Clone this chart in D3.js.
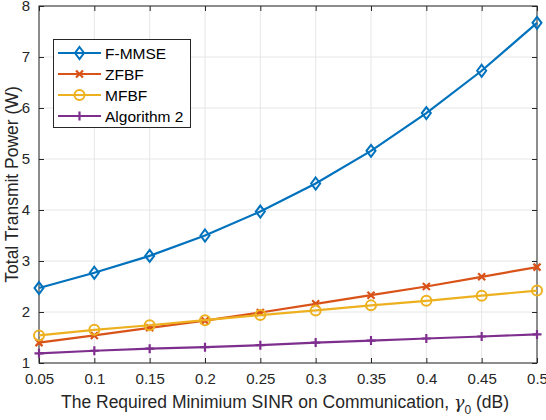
<!DOCTYPE html>
<html>
<head>
<meta charset="utf-8">
<script src="https://cdn.jsdelivr.net/npm/d3@7"></script>
<style>
body { margin: 0; background: #fff; }
text { font-family: "Liberation Sans", Arial, sans-serif; }
.axis path { display: none; }
.axis line { stroke: #262626; }
.axis text { fill: #262626; font-size: 15px; font-family: "Liberation Sans", Arial, sans-serif; }
.grid line { stroke: #e6e6e6; }
</style>
</head>
<body>
<script>
//Data
const gammaValues = [0.05, 0.1, 0.15, 0.2, 0.25, 0.3, 0.35, 0.4, 0.45, 0.5];
const fmmse = [2.47, 2.77, 3.10, 3.50, 3.97, 4.52, 5.16, 5.90, 6.73, 7.67];
const zfbf = [1.40, 1.54, 1.69, 1.83, 1.99, 2.16, 2.33, 2.50, 2.69, 2.88];
const mfbf = [1.54, 1.65, 1.74, 1.84, 1.94, 2.03, 2.13, 2.22, 2.32, 2.42];
const algo2 = [1.19, 1.24, 1.28, 1.31, 1.35, 1.40, 1.44, 1.48, 1.52, 1.56];
const xTicks = [0.05, 0.1, 0.15, 0.2, 0.25, 0.3, 0.35, 0.4, 0.45, 0.5];
const yTicks = [1, 2, 3, 4, 5, 6, 7, 8];
const seriesNames = ["F-MMSE", "ZFBF", "MFBF", "Algorithm 2"];

const width = 546;
const height = 420;
const plotLeft = 39, plotRight = 537, plotTop = 6, plotBottom = 363;

const colors = ["#0072BD", "#D95319", "#EDB120", "#7E2F8E"];
const markers = ["diamond", "x", "circle", "plus"];
const allSeries = [fmmse, zfbf, mfbf, algo2];

const svg = d3.select("body")
    .append("svg")
    .attr("width", width)
    .attr("height", height);

//Scales
const xScale = d3.scaleLinear()
    .domain([0.05, 0.5])
    .range([plotLeft, plotRight]);

const yScale = d3.scaleLinear()
    .domain([1, 8])
    .range([plotBottom, plotTop]);

//Grid
svg.append("g")
    .attr("class", "grid")
    .selectAll("line")
    .data(xTicks)
    .join("line")
    .attr("x1", d => xScale(d)).attr("x2", d => xScale(d))
    .attr("y1", plotTop).attr("y2", plotBottom);

svg.append("g")
    .attr("class", "grid")
    .selectAll("line")
    .data(yTicks)
    .join("line")
    .attr("x1", plotLeft).attr("x2", plotRight)
    .attr("y1", d => yScale(d)).attr("y2", d => yScale(d));

//Axes, ticks inside like MATLAB
svg.append("g")
    .attr("class", "axis")
    .attr("transform", "translate(0," + plotBottom + ")")
    .call(d3.axisBottom(xScale).tickValues(xTicks).tickSizeInner(-5).tickSizeOuter(0).tickPadding(10).tickFormat(d => String(d)));

svg.append("g")
    .attr("class", "axis")
    .attr("transform", "translate(0," + plotTop + ")")
    .call(d3.axisTop(xScale).tickValues(xTicks).tickSizeInner(-5).tickSizeOuter(0).tickFormat(""));

svg.append("g")
    .attr("class", "axis")
    .attr("transform", "translate(" + plotLeft + ",0)")
    .call(d3.axisLeft(yScale).tickValues(yTicks).tickSizeInner(-5).tickSizeOuter(0).tickPadding(9).tickFormat(d3.format("d")));

svg.append("g")
    .attr("class", "axis")
    .attr("transform", "translate(" + plotRight + ",0)")
    .call(d3.axisRight(yScale).tickValues(yTicks).tickSizeInner(-5).tickSizeOuter(0).tickFormat(""));

//Box
svg.append("rect")
    .attr("x", plotLeft).attr("y", plotTop)
    .attr("width", plotRight - plotLeft).attr("height", plotBottom - plotTop)
    .attr("fill", "none")
    .attr("stroke", "#262626")
    .attr("stroke-width", 1);

//Markers
function drawMarker(g, type, color, cx, cy) {
    if (type === "diamond") {
        g.append("path")
            .attr("d", `M${cx},${cy - 6}L${cx + 4.5},${cy}L${cx},${cy + 6}L${cx - 4.5},${cy}Z`)
            .attr("fill", "none").attr("stroke", color).attr("stroke-width", 2);
    } else if (type === "circle") {
        g.append("circle")
            .attr("cx", cx).attr("cy", cy).attr("r", 5)
            .attr("fill", "none").attr("stroke", color).attr("stroke-width", 2);
    } else if (type === "x") {
        const s = 3.5;
        g.append("path")
            .attr("d", `M${cx - s},${cy - s}L${cx + s},${cy + s}M${cx - s},${cy + s}L${cx + s},${cy - s}`)
            .attr("stroke", color).attr("stroke-width", 2.2);
    } else {
        const s = 4.5;
        g.append("path")
            .attr("d", `M${cx - s},${cy}L${cx + s},${cy}M${cx},${cy - s}L${cx},${cy + s}`)
            .attr("stroke", color).attr("stroke-width", 2.2);
    }
}

//Lines
const line = d3.line()
    .x((d, i) => xScale(gammaValues[i]))
    .y(d => yScale(d));

allSeries.forEach((vals, k) => {
    svg.append("path")
        .datum(vals)
        .attr("d", line)
        .attr("fill", "none")
        .attr("stroke", colors[k])
        .attr("stroke-width", 2.2);
    const g = svg.append("g");
    vals.forEach((v, i) => drawMarker(g, markers[k], colors[k], xScale(gammaValues[i]), yScale(v)));
});

//Legend
const legend = svg.append("g");
legend.append("rect")
    .attr("x", 53.5).attr("y", 39.5)
    .attr("width", 137).attr("height", 88)
    .attr("fill", "#fff")
    .attr("stroke", "#262626")
    .attr("stroke-width", 1);

seriesNames.forEach((name, k) => {
    const ly = 53 + k * 21;
    legend.append("line")
        .attr("x1", 58).attr("x2", 101)
        .attr("y1", ly).attr("y2", ly)
        .attr("stroke", colors[k]).attr("stroke-width", 2.2);
    drawMarker(legend, markers[k], colors[k], 79.5, ly);
    legend.append("text")
        .attr("x", 105).attr("y", ly + 5.5)
        .attr("font-size", "15.5px")
        .attr("fill", "#000")
        .text(name);
});

//Axis labels
const xLabel = svg.append("text")
    .attr("x", 285)
    .attr("y", 408)
    .attr("text-anchor", "middle")
    .attr("font-size", "17.5px")
    .attr("fill", "#262626");
xLabel.append("tspan").text("The Required Minimium SINR on Communication, ");
xLabel.append("tspan").attr("font-family", "'DejaVu Serif', serif").attr("font-style", "italic").text("γ");
xLabel.append("tspan").attr("font-size", "12px").attr("dy", 6).text("0");
xLabel.append("tspan").attr("dy", -6).text(" (dB)");

svg.append("text")
    .attr("transform", "translate(18," + ((plotTop + plotBottom) / 2) + ") rotate(-90)")
    .attr("text-anchor", "middle")
    .attr("font-size", "17.5px")
    .attr("fill", "#262626")
    .text("Total Transmit Power (W)");
</script>
</body>
</html>
